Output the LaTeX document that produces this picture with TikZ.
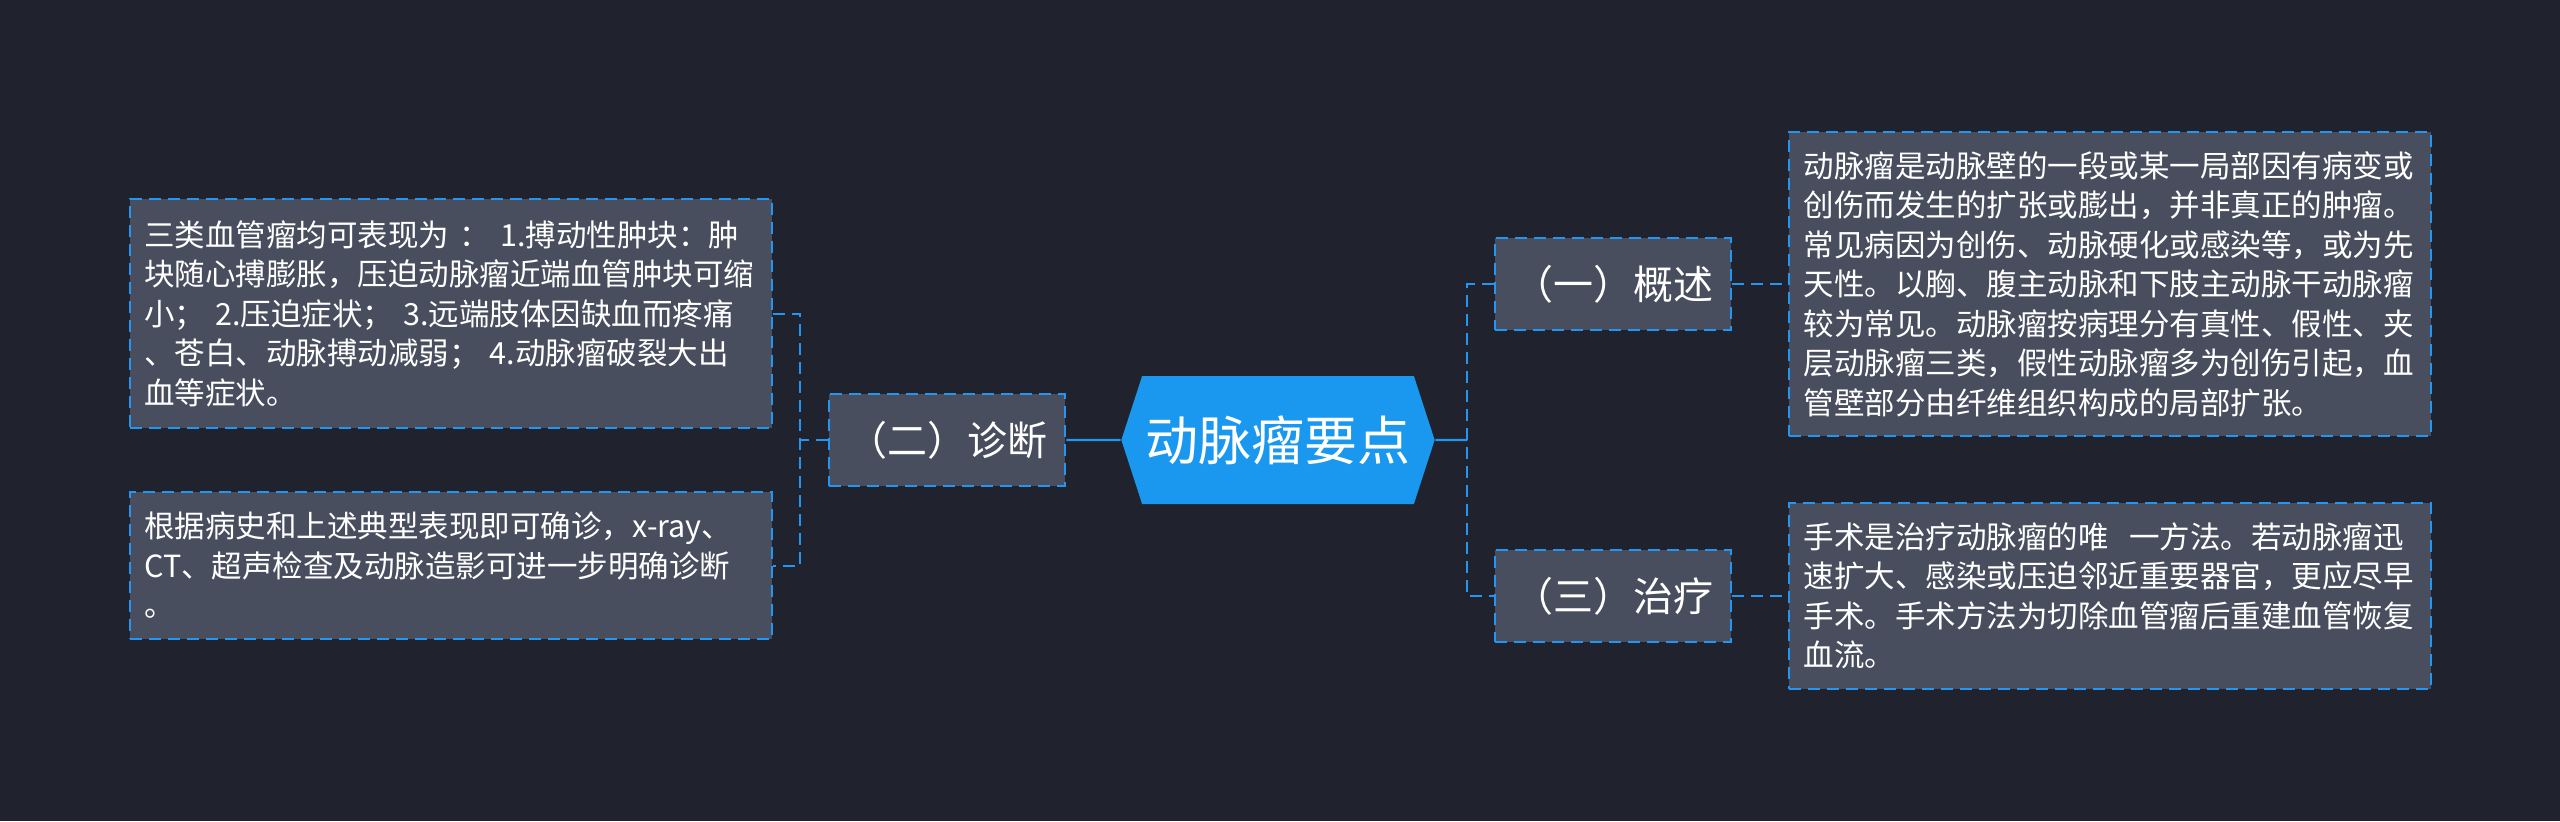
\documentclass[tikz,border=0pt]{standalone}
\usepackage{fontspec}
\setmainfont{Noto Sans CJK SC}
\usepackage{xcolor}
\usepackage{tikz}
\usetikzlibrary{positioning, shapes.symbols}

\definecolor{bgdark}{HTML}{20232E}
\definecolor{boxgray}{HTML}{484E5E}
\definecolor{lineblue}{HTML}{2196F3}
\definecolor{hubblue}{HTML}{1A98EF}

\tikzset{
  dashlook/.style={line width=0.6pt, dash pattern=on 3.6pt off 2.1pt},
  hub/.style={shape=signal, signal to=west and east, signal pointer angle=144,
    fill=hubblue, text=white, minimum width=94pt, minimum height=38.4pt,
    inner sep=0pt, font=\fontsize{15.9pt}{18pt}\selectfont},
  topic/.style={draw=lineblue, dashlook, fill=boxgray, text=white,
    minimum width=70.8pt, minimum height=27.6pt, inner sep=0pt,
    font=\fontsize{12pt}{14pt}\selectfont},
  note/.style={draw=lineblue, dashlook, fill=boxgray, text=white, align=left,
    text width=184pt, inner xsep=4.3pt, inner ysep=0pt,
    font=\fontsize{9.15pt}{11.85pt}\selectfont},
  dashlink/.style={draw=lineblue, dashlook},
  solidlink/.style={draw=lineblue, line width=0.7pt},
}

\begin{document}
\begin{tikzpicture}[-]
			\fill[bgdark] (0pt,0pt) rectangle (768pt,-246.3pt);
			\useasboundingbox (0pt,0pt) rectangle (768pt,-246.3pt);

			\node[hub] (root) at (383.4pt,-132pt) {动脉瘤要点};
			\node[topic, left = 16.3pt of root] (zd) {（二）诊断};
			\node[topic, right = 17.7pt of root, yshift = 46.8pt] (gs) {（一）概述};
			\node[topic, right = 17.7pt of root, yshift = -46.8pt] (zl) {（三）治疗};

			\node[note, minimum height = 68.7pt, left = 16.6pt of zd, yshift = 37.95pt] (zd1) {三类血管瘤均可表现为 ： 1.搏动性肿块：肿\\块随心搏膨胀，压迫动脉瘤近端血管肿块可缩\\小； 2.压迫症状； 3.远端肢体因缺血而疼痛\\、苍白、动脉搏动减弱； 4.动脉瘤破裂大出\\血等症状。};
			\node[note, minimum height = 44.1pt, left = 16.6pt of zd, yshift = -37.65pt] (zd2) {根据病史和上述典型表现即可确诊，x-ray、\\CT、超声检查及动脉造影可进一步明确诊断\\。};
			\node[note, minimum height = 91.2pt, right = 16.8pt of gs] (gs1) {动脉瘤是动脉壁的一段或某一局部因有病变或\\创伤而发生的扩张或膨出，并非真正的肿瘤。\\常见病因为创伤、动脉硬化或感染等，或为先\\天性。以胸、腹主动脉和下肢主动脉干动脉瘤\\较为常见。动脉瘤按病理分有真性、假性、夹\\层动脉瘤三类，假性动脉瘤多为创伤引起，血\\管壁部分由纤维组织构成的局部扩张。};
			\node[note, minimum height = 55.8pt, right = 16.8pt of zl] (zl1) {手术是治疗动脉瘤的唯\ \ 一方法。若动脉瘤迅\\速扩大、感染或压迫邻近重要器官，更应尽早\\手术。手术方法为切除血管瘤后重建血管恢复\\血流。};

			\coordinate[left = 8.4pt of zd.west] (lj);
			\coordinate[right = 9.6pt of root.east] (rj);

			\draw (root) edge[solidlink] (zd);
			\draw (root) edge[solidlink] (rj);
			\draw (zd) edge[dashlink] (lj);
			\draw[dashlink] (zd1.east) -| (lj) |- (zd2.east);
			\draw[dashlink] (gs.west) -| (rj) |- (zl.west);
			\draw (gs) edge[dashlink] (gs1);
		\draw (zl) edge[dashlink] (zl1);
		\end{tikzpicture}
\end{document}
